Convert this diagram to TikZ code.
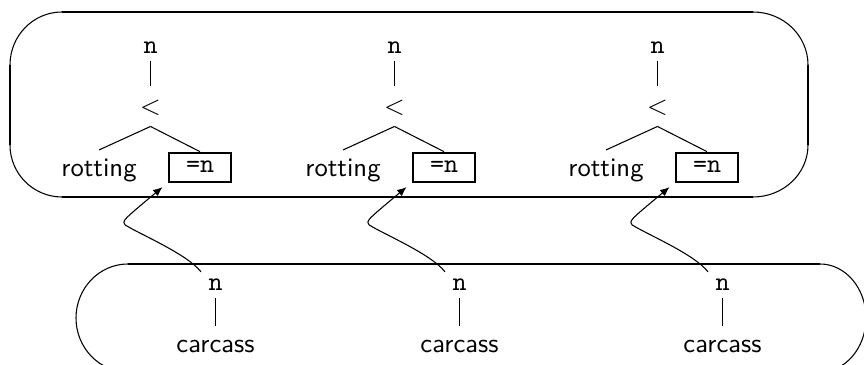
\documentclass[tikz,border=0pt]{standalone}
\usetikzlibrary{arrows.meta}
\begin{document}
\begin{tikzpicture}[x=0.375pt,y=-0.375pt,
  thinline/.style={line width=0.4pt},
  thickline/.style={line width=0.8pt},
  ttn/.style={font=\ttfamily, inner sep=2.6pt, anchor=base},
  word/.style={font=\sffamily, text height=6.6pt, anchor=base},
  less/.style={inner sep=0pt, text height=10.5pt, text depth=4.1pt, anchor=base},
  valbox/.style={draw, line width=0.8pt, font=\ttfamily, inner xsep=6.5pt, inner ysep=3.3pt, text height=4.3pt, text depth=0pt, anchor=base},
  branch/.style={line width=0.4pt},
  ptr/.style={line width=0.4pt, -{Latex[length=3.5pt,width=3pt]}, shorten >=2.5pt}]
\useasboundingbox (0,0) rectangle (864,365);
\clip (0,0) rectangle (864,365);
% top rounded frame
\draw[thickline] (62,12) -- (753,12);
\draw[thickline] (62,197) -- (753,197);
\draw[thickline] (10,65) -- (10,145);
\draw[thickline] (808,65) -- (808,145);
\draw[thinline] (62,12) .. controls (33.3,12) and (10,35.7) .. (10,65);
\draw[thinline] (10,145) .. controls (10,173.7) and (33.3,197) .. (62,197);
\draw[thinline] (753,12) .. controls (783.4,12) and (808,35.7) .. (808,65);
\draw[thinline] (808,145) .. controls (808,173.7) and (783.4,197) .. (753,197);
% bottom rounded frame (cut by the picture edge)
\draw[thickline] (128,264) -- (820,264);
\draw[thinline] (128,264) .. controls (99.3,264) and (76,288.2) .. (76,318) .. controls (76,347.8) and (99.3,372) .. (128,372);
\draw[thinline] (820,264) .. controls (845.4,264) and (866,288.2) .. (866,318) .. controls (866,347.8) and (845.4,372) .. (820,372);
% trees
\foreach \i/\d in {1/0, 2/244, 3/507} {
  \node[ttn] (n\i) at (150.5+\d,53.5) {n};
  \node[less] (lt\i) at (150.5+\d,115) {$<$};
  \node[word] (rot\i) at (99+\d,177) {rotting};
  \node[valbox] (box\i) at (200+\d,173) {=n};
  \node[ttn] (bn\i) at (215.5+\d,291) {n};
  \node[word] (car\i) at (215.5+\d,353) {carcass};
  \draw[branch] (n\i.south) -- (lt\i.north);
  \draw[branch] (lt\i.south) -- (rot\i.north);
  \draw[branch] (lt\i.south) -- (box\i.north);
  \draw[branch] (bn\i.south) -- (car\i.north);
  \draw[ptr] (bn\i.north west) .. controls +(-14,-18) and +(14,9) .. ++(-76,-47)
        .. controls +(-3,-4) .. (box\i.south west);
}
\end{tikzpicture}
\end{document}
